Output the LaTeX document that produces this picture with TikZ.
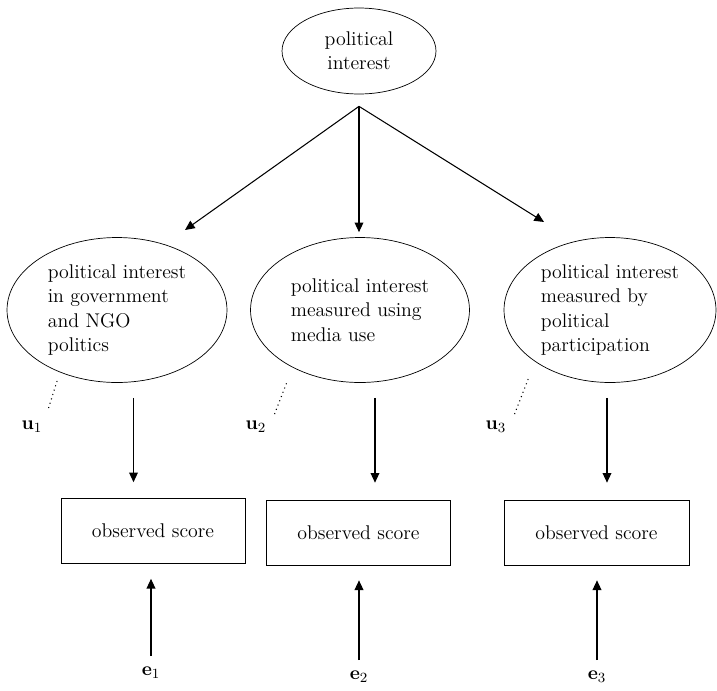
\documentclass[tikz,border=0pt]{standalone}
\usepackage{amsmath}
\usetikzlibrary{arrows.meta,shapes.geometric}

\begin{document}
\begin{tikzpicture}[x=0.02cm,y=-0.02cm,
  font=\fontsize{11.3}{13.8}\selectfont,
  latent/.style={draw,ellipse,inner sep=0pt,align=left,minimum height=2.9cm},
  obs/.style={draw,rectangle,minimum width=3.68cm,minimum height=1.3cm,inner sep=0pt},
  arr/.style={-{Triangle[length=5.5pt,width=5pt]},line width=0.6pt},
  err/.style={dotted,line width=0.6pt}]
\useasboundingbox (0,0) rectangle (717,690);
% Top factor
\node[latent,minimum width=3.08cm,minimum height=1.72cm,align=center] (pol) at (359,51) {political\\interest};
% Three measured sides
\node[latent,minimum width=4.4cm] (lat1) at (117,310) {political interest\\in government\\and NGO\\politics};
\node[latent,minimum width=4.38cm] (lat2) at (360,310) {political interest\\measured using\\media use};
\node[latent,minimum width=4.24cm] (lat3) at (610,310) {political interest\\measured by\\political\\participation};
% Arrows from the top
\coordinate (apex) at ([yshift=-0.24cm]pol.south);
\coordinate (t1) at (185,230);
\coordinate (t3) at (544,222);
\draw[arr] (apex) -- (t1);
\draw[arr,shorten >=0.1cm] (apex) -- (apex |- lat2.north);
\draw[arr] (apex) -- (t3);
% Observed scores
\node[obs] (obs1) at (153,531) {observed score};
\node[obs] (obs2) at (358.5,532.5) {observed score};
\node[obs,minimum width=3.7cm] (obs3) at (596.5,532.5) {observed score};
\coordinate (a1) at ([xshift=0.33cm,yshift=-0.3cm]lat1.south);
\coordinate (a2) at ([xshift=0.3cm,yshift=-0.3cm]lat2.south);
\coordinate (a3) at ([xshift=-0.06cm,yshift=-0.3cm]lat3.south);
\draw[arr,shorten >=0.32cm] (a1) -- (a1 |- obs1.north);
\draw[arr,shorten >=0.34cm] (a2) -- (a2 |- obs2.north);
\draw[arr,shorten >=0.34cm] (a3) -- (a3 |- obs3.north);
% Disturbances
\node (u1) at (32,427) {$\mathbf{u}_1$};
\node (u2) at (256,427) {$\mathbf{u}_2$};
\node (u3) at (496,427) {$\mathbf{u}_3$};
\coordinate (d1) at (58,378);
\coordinate (d2) at (287,382);
\coordinate (d3) at (529,377);
\draw[err] ([yshift=0.14cm]u1.north east) -- (d1);
\draw[err] ([xshift=0.04cm,yshift=0.02cm]u2.north east) -- (d2);
\draw[err] ([xshift=0.04cm,yshift=0.02cm]u3.north east) -- (d3);
% Errors
\node (e1) at (151,673) {$\mathbf{e}_1$};
\node (e2) at (359,677) {$\mathbf{e}_2$};
\node (e3) at (597,677) {$\mathbf{e}_3$};
\draw[arr,shorten <=0.1cm,shorten >=0.3cm] (e1) -- (e1 |- obs1.south);
\draw[arr,shorten <=0.1cm,shorten >=0.3cm] (e2) -- (e2 |- obs2.south);
\draw[arr,shorten <=0.1cm,shorten >=0.3cm] (e3) -- (e3 |- obs3.south);
\end{tikzpicture}
\end{document}
